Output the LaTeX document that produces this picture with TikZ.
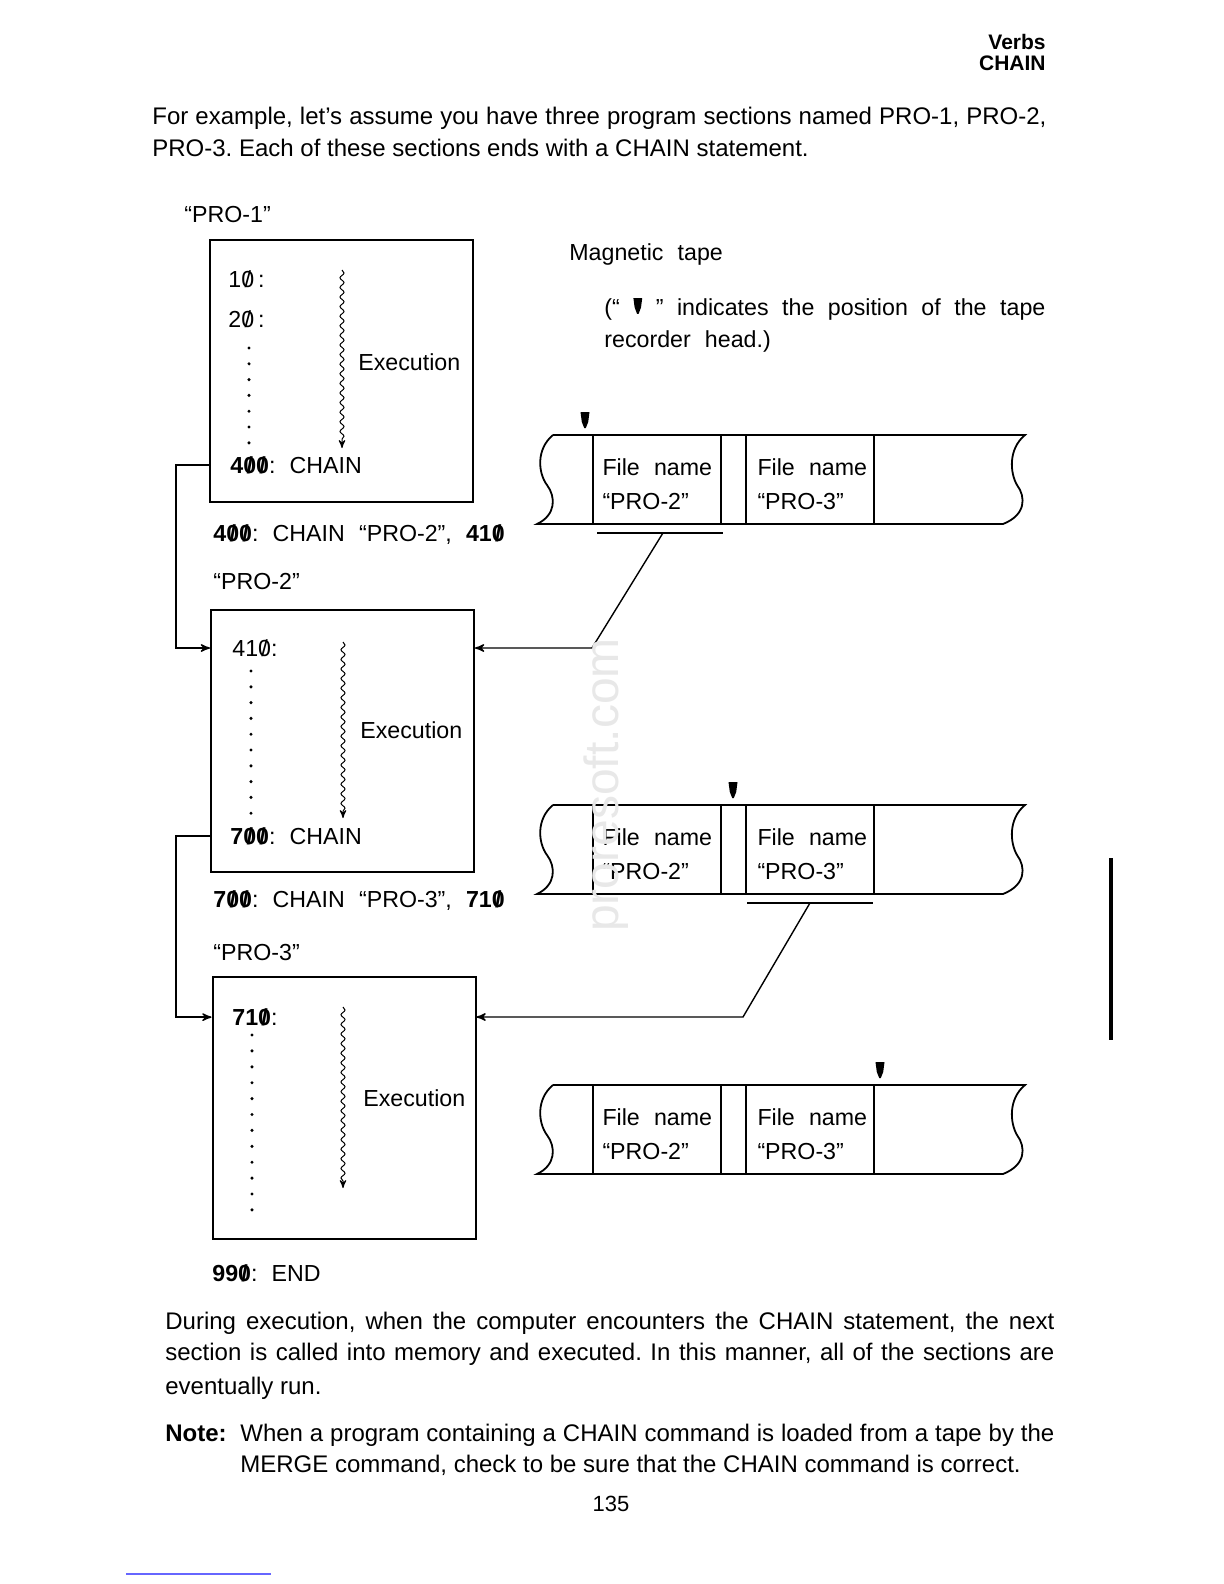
\documentclass[tikz,border=0pt]{standalone}
\usepackage{fontspec}
\setmainfont{Liberation Sans}
\newfontfamily\diagfont{Liberation Sans}[WordSpace=2.2]
\usetikzlibrary{arrows,positioning,decorations.pathmorphing}
\frenchspacing
\newcommand{\zr}{\ooalign{0\cr\hidewidth/\hidewidth\cr}}% slashed zero
\newcommand{\headmk}{\tikz[baseline=0pt]\fill (-2.2pt,8.4pt) -- (2.2pt,8.4pt) -- (1.6pt,3.8pt) -- (0.4pt,0.6pt) -- (-0.4pt,0.6pt) -- (-1.6pt,3.8pt) -- cycle;}
\tikzset{
	txt/.style = {inner sep=0pt, anchor=base west,
		font=\diagfont\fontsize{11.6}{14}\selectfont},
	body/.style = {inner sep=0pt, anchor=base west, font=\fontsize{12}{14}\selectfont},
	head/.style = {inner sep=0pt, anchor=base east, font=\bfseries\fontsize{10.5}{12}\selectfont},
	prog_box/.style = {draw, line width=1pt, minimum width=131.5pt,
		minimum height=131pt, inner sep=0pt},% program section
	tape_cell/.style = {draw, line width=0.9pt, minimum width=64pt,
		minimum height=44.5pt, inner sep=0pt},% file on tape
	cell_txt/.style = {inner sep=0pt, align=left, anchor=west,
		font=\diagfont\fontsize{11.6}{17}\selectfont},
	tape_edge/.style = {draw, line width=0.9pt},
	wave/.style = {->, line width=0.5pt, decorate,
		decoration={snake, amplitude=1pt, segment length=4.8pt, post length=2.5pt}},
	link/.style = {line width=0.7pt}
}
\begin{document}
\begin{tikzpicture}[x=0.5pt,y=-0.5pt,>=stealth']
\fill[white] (0,0) rectangle (1224,1584);
\useasboundingbox (0,0) rectangle (1224,1584);
% page head and text
\node[head] (hd1) at (1046,50) {Verbs};
\node[head] (hd2) at (1046,71) {CHAIN};
\node[body] (par1a) at (152,125) {\makebox[447pt][s]{For example, let’s assume you have three program sections named PRO-1, PRO-2,}};
\node[body] (par1b) at (152,156) {PRO-3. Each of these sections ends with a CHAIN statement.};
% program sections
\node[txt] (p1lbl) at (184,222) {“PRO-1”};
\node[prog_box] (pro1) at (341.5,371) {};
\node[txt] (l10) at (228,287) {1\zr\,:};
\node[txt] (l20) at (228,327) {2\zr\,:};
\node[txt] (ex1) at (358,370) {Execution};
\node[txt] (ch1) at (230,473) {\textbf{4\zr\zr}: CHAIN};
\foreach \i in {0,...,6}
	\fill (249,348+15.8*\i) circle (0.85pt);
\draw[wave] (342,270) -- (342,448);
\node[txt] (c400) at (213,541) {\textbf{4\zr\zr}: CHAIN “PRO-2”, \textbf{41\zr}};
\node[txt] (p2lbl) at (213,589) {“PRO-2”};
\node[prog_box] (pro2) at (342.5,741) {};
\node[txt] (l410) at (232,656) {41\zr:};
\node[txt] (ex2) at (360,738) {Execution};
\node[txt] (ch2) at (230,844) {\textbf{7\zr\zr}: CHAIN};
\foreach \i in {0,...,9}
	\fill (251,671+15.8*\i) circle (0.85pt);
\draw[wave] (343,642) -- (343,818);
\node[txt] (c700) at (213,907) {\textbf{7\zr\zr}: CHAIN “PRO-3”, \textbf{71\zr}};
\node[txt] (p3lbl) at (213,960) {“PRO-3”};
\node[prog_box] (pro3) at (344,1107.5) {};
\node[txt] (l710) at (232,1025) {\textbf{71\zr}:};
\node[txt] (ex3) at (363,1106) {Execution};
\foreach \i in {0,...,11}
	\fill (252,1035+15.9*\i) circle (0.85pt);
\draw[wave] (343,1007) -- (343,1188);
\node[txt] (l990) at (212,1281) {\textbf{99\zr}: END};
% chain jumps
\coordinate (j1) at (176,0);
\draw[link,->] (ch1.west -| pro1.west) -- (ch1.west -| j1) |- (l410.west -| pro2.west);
\draw[link,->] (ch2.west -| pro2.west) -- (ch2.west -| j1) |- (l710.west -| pro3.west);
% magnetic tape
\node[txt] (mag) at (569,260) {Magnetic tape};
\node[txt] (leg1) at (604,315) {\makebox[220.5pt][s]{(“ \headmk{} ” indicates the position of the tape}};
\node[txt] (leg2) at (604,347) {recorder head.)};
\foreach \T/\n/\hx in {435/1/585, 805/2/733, 1085/3/880} {
	\draw[tape_edge] (553,\T) -- (1025,\T)
		.. controls (1008,\T+14) and (1010,\T+38) .. (1017,\T+50)
		.. controls (1026,\T+62) and (1026,\T+80) .. (1003,\T+89)
		-- (537,\T+89)
		.. controls (556,\T+80) and (556,\T+62) .. (547,\T+50)
		.. controls (538,\T+38) and (536,\T+14) .. (553,\T);
	\node[tape_cell] (t\n-c1) at (657,\T+44.5) {};
	\node[tape_cell] (t\n-c2) at (810,\T+44.5) {};
	\node[cell_txt] (t\n-n1) at ([xshift=5pt,yshift=-2.25pt]t\n-c1.west) {File name\\“PRO-2”};
	\node[cell_txt] (t\n-n2) at ([xshift=6pt,yshift=-2.25pt]t\n-c2.west) {File name\\“PRO-3”};
	\fill (\hx-4.5,\T-23) -- (\hx+4.5,\T-23) -- (\hx+3.2,\T-13) -- (\hx+0.8,\T-7)
		-- (\hx-0.8,\T-7) -- (\hx-3.2,\T-13) -- cycle;% head
}
% tape to memory
\draw[link] ([xshift=2.5pt,yshift=-4pt]t1-c1.south west) -- ([xshift=0.5pt,yshift=-4pt]t1-c1.south east);
\coordinate (u1) at ([xshift=3pt,yshift=-4pt]t1-c1.south);
\coordinate (k1) at (592,648);
\draw[link,->] (u1) -- (k1) -- (k1 -| pro2.east);
\draw[link] ([xshift=1pt,yshift=-4pt]t2-c2.south west) -- ([xshift=-1pt,yshift=-4pt]t2-c2.south east);
\coordinate (u2) at ([yshift=-4pt]t2-c2.south);
\coordinate (k2) at (743,1017);
\draw[link,->] (u2) -- (k2) -- (k2 -| pro3.east);
% closing text
\node[body] (par2a) at (165,1329) {\makebox[444.5pt][s]{During execution, when the computer encounters the CHAIN statement, the next}};
\node[body] (par2b) at (165,1360) {\makebox[444.5pt][s]{section is called into memory and executed. In this manner, all of the sections are}};
\node[body] (par2c) at (165,1394) {eventually run.};
\node[body] (note) at (165,1441) {\textbf{Note:}};
\node[body] (nt1) at (240,1441) {\makebox[407pt][s]{When a program containing a CHAIN command is loaded from a tape by the}};
\node[body] (nt2) at (240,1472) {MERGE command, check to be sure that the CHAIN command is correct.};
\node[body, anchor=base, font=\fontsize{11}{13}\selectfont] (pg) at (611,1511) {135};
% scan marks
\node[rotate=90, text=gray!18, inner sep=0pt, font=\fontsize{24}{24}\selectfont] (wmark) at (606,785) {proresoft.com};
\draw[line width=2pt] (1111,858) -- (1111,1040);
\draw[blue!60, line width=0.7pt] (126,1574) -- (271,1574);
\end{tikzpicture}
\end{document}
